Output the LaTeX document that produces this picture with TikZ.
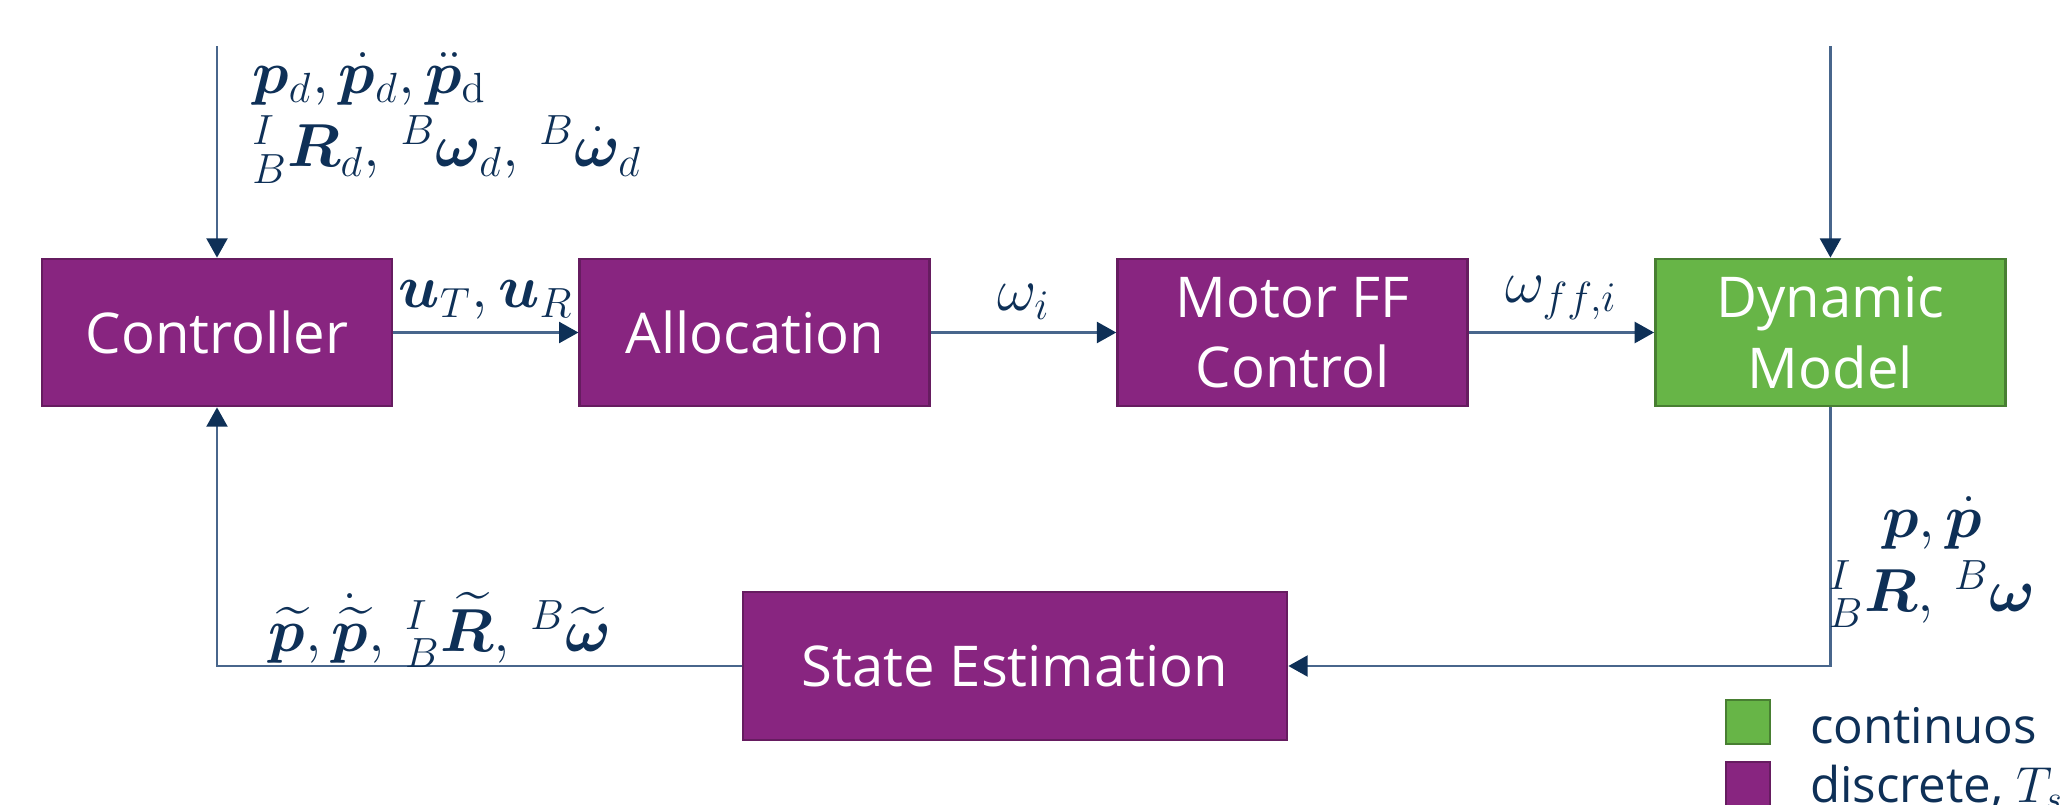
\documentclass[tikz,border=0pt]{standalone}
\usepackage[no-math]{fontspec}
\setmainfont{Open Sans}
\usepackage{amsmath}
\usepackage{amssymb}
\usepackage{bm}
\usetikzlibrary{
    arrows.meta,
    positioning,
    calc
}
\definecolor{discpurple}{RGB}{136, 37, 128}
\definecolor{contgreen}{RGB}{103, 181, 71}
\definecolor{darknavy}{RGB}{14, 48, 87}
\definecolor{wire}{RGB}{72, 102, 140}
\tikzstyle{block} = [
    rectangle,
    draw=discpurple!75!black,
    fill=discpurple,
    line width=0.8pt,
    minimum width=3.5cm,
    minimum height=1.47cm,
    inner sep=0pt,
    align=center,
    text=white,
    font=\fontsize{16}{20}\selectfont
]
\tikzstyle{contblock} = [
    block,
    draw=contgreen!70!black,
    fill=contgreen
]
\tikzstyle{signal} = [
    -{Triangle[length=5.5pt,width=6pt,color=darknavy]},
    line width=0.6pt,
    draw=wire
]
\tikzstyle{sig} = [
    text=darknavy,
    font=\fontsize{17}{20}\selectfont
]
\tikzstyle{legendbox} = [
    rectangle,
    line width=0.8pt,
    minimum width=0.44cm,
    minimum height=0.44cm,
    inner sep=0pt
]
\tikzstyle{legtext} = [
    text=darknavy,
    inner sep=0pt,
    font=\fontsize{14}{17}\selectfont
]

\begin{document}
\begin{tikzpicture}
    \useasboundingbox (0,0) rectangle (20.69,8.04);
    % forward path
    \node[block] (ctrl) at (2.17,4.715) {Controller};
    \node[block, right=1.85cm of ctrl] (alloc) {Allocation};
    \node[block, right=1.85cm of alloc] (motor) {Motor FF\\Control};
    \node[contblock, right=1.85cm of motor] (dyn) {Dynamic\\Model};
    % feedback path
    \node[block, minimum width=5.44cm, minimum height=1.48cm] (est) at (10.15,1.38) {State Estimation};

    \coordinate (refin) at (2.17,7.58);
    \coordinate (distin) at (dyn.north |- refin);
    \draw[signal] (refin) -- (ctrl.north);
    \draw[signal] (distin) -- (dyn.north);
    \draw[signal] (ctrl) -- node[sig, above] (uctl) {$\bm{u}_T, \bm{u}_R$} (alloc);
    \draw[signal] (alloc) -- node[sig, above] (wrot) {$\omega_i$} (motor);
    \draw[signal] (motor) -- node[sig, above] (wff) {$\omega_{ff,i}$} (dyn);
    \draw[signal] (dyn.south) |- (est.east);
    \draw[signal] (est.west) -| (ctrl.south);

    % signal labels
    \node[sig, anchor=north west, align=left] (refl) at (2.40,7.64)
        {$\bm{p}_d, \dot{\bm{p}}_d, \ddot{\bm{p}}_\mathrm{d}$\\[1pt]
         ${}^{I}_{B}\bm{R}_d,\,{}^{B}\bm{\omega}_d,\,{}^{B}\dot{\bm{\omega}}_d$};
    \node[sig, align=center] (meas) at (19.32,2.42)
        {$\bm{p}, \dot{\bm{p}}$\\[1pt]
         ${}^{I}_{B}\bm{R},\,{}^{B}\bm{\omega}$};
    \node[sig] (estl) at (4.40,1.74)
        {$\widetilde{\bm{p}}, \dot{\widetilde{\bm{p}}},\,{}^{I}_{B}\widetilde{\bm{R}},\,{}^{B}\widetilde{\bm{\omega}}$};

    % legend
    \node[legendbox, fill=contgreen, draw=contgreen!70!black] (lgcont) at (17.48,0.82) {};
    \node[legendbox, fill=discpurple, draw=discpurple!75!black] (lgdisc) at (17.48,0.20) {};
    \node[legtext, anchor=base west] (lgconttxt) at ($(lgcont.south east)+(0.38,0.02)$) {continuos};
    \node[legtext, anchor=base west] (lgdisctxt) at ($(lgdisc.south east)+(0.38,0.05)$) {discrete, $T_s$};
\end{tikzpicture}
\end{document}
